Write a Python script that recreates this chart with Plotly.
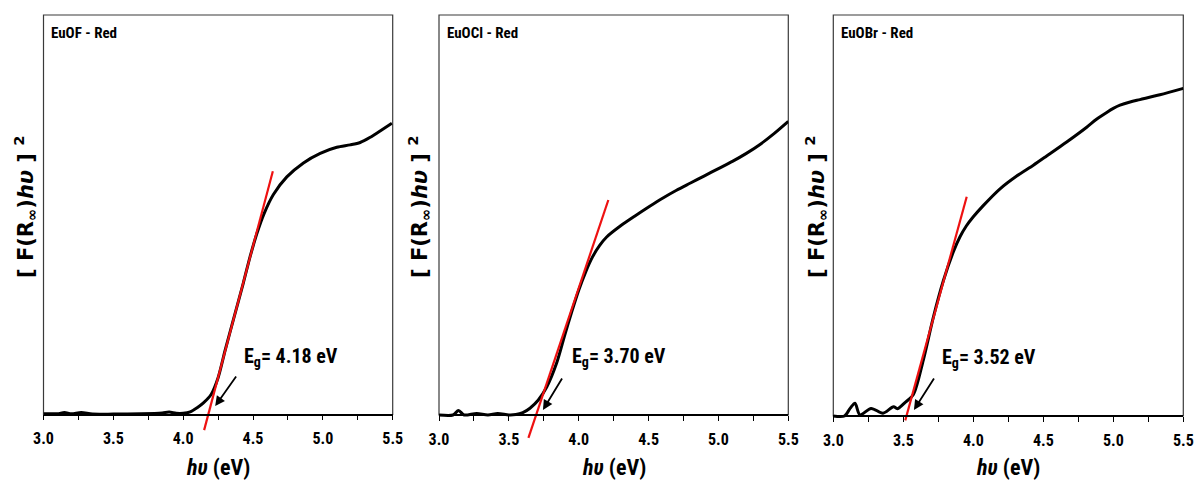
import plotly.graph_objects as go

# ---------------- data ----------------
samples = ["EuOF - Red", "EuOCl - Red", "EuOBr - Red"]
eg_values = [4.18, 3.70, 3.52]

x_euof = [3.00, 3.10, 3.15, 3.20, 3.27, 3.35, 3.50, 3.70, 3.85, 3.90, 3.95, 4.00, 4.05,
          4.10, 4.145, 4.20, 4.25, 4.30, 4.36, 4.43, 4.48, 4.53, 4.58, 4.646, 4.742, 4.861,
          4.981, 5.100, 5.195, 5.267, 5.339, 5.410, 5.494]
y_euof = [0.2, 0.2, 0.5, 0.2, 0.5, 0.1, 0.1, 0.2, 0.4, 0.6, 0.3, 0.3, 0.65,
          1.7, 2.9, 5.0, 9.2, 16.0, 23.8, 32.8, 39.6, 45.5, 50.3, 55.0, 59.4, 62.9,
          65.3, 66.8, 67.4, 68.0, 69.3, 70.9, 72.8]

x_euocl = [3.00, 3.10, 3.14, 3.18, 3.27, 3.35, 3.42, 3.50, 3.55, 3.60, 3.651, 3.711,
           3.771, 3.842, 3.90, 3.95, 4.00, 4.05, 4.10, 4.15, 4.20, 4.30, 4.40,
           4.50, 4.60, 4.70, 4.80, 4.90, 5.00, 5.10, 5.20, 5.30, 5.40, 5.50]
y_euocl = [0.0, 0.0, 1.1, 0.0, 0.4, 0.0, 0.4, 0.0, 0.1, 0.6, 1.7, 3.75,
           7.0, 13.0, 20.0, 25.8, 31.2, 35.8, 39.6, 42.4, 44.5, 47.3, 49.7,
           52.0, 54.2, 56.2, 58.0, 59.8, 61.6, 63.4, 65.4, 67.7, 70.4, 73.4]

x_euobr = [3.00, 3.08, 3.12, 3.155, 3.19, 3.27, 3.355, 3.43, 3.46, 3.476, 3.51, 3.571,
           3.643, 3.714, 3.786, 3.857, 3.905, 3.95, 4.00, 4.071, 4.191, 4.310, 4.429, 4.524,
           4.667, 4.810, 4.88, 4.953, 5.00, 5.048, 5.12, 5.190, 5.333, 5.500]
y_euobr = [0.0, 0.0, 1.9, 3.2, 0.3, 1.9, 0.7, 2.3, 1.8, 2.2, 3.3, 5.3,
           14.0, 24.6, 33.8, 41.0, 44.8, 47.5, 49.8, 52.6, 56.8, 60.0, 62.7, 65.0,
           68.5, 72.2, 74.2, 75.9, 76.9, 77.7, 78.5, 79.1, 80.3, 81.9]

# linear fits (tangent lines) : end points
fit_x = [[4.150, 4.642], [3.640, 4.212], [3.514, 3.953]]
fit_y = [[-3.9, 60.8], [-5.7, 53.75], [-1.1, 54.8]]

curves_x = [x_euof, x_euocl, x_euobr]
curves_y = [y_euof, y_euocl, y_euobr]

x_ticks = [3.0, 3.5, 4.0, 4.5, 5.0, 5.5]
x_ticktext = ["3.0", "3.5", "4.0", "4.5", "5.0", "5.5"]

# ---------------- layout geometry (pixels) ----------------
W, H = 1196, 482
panel_left = [43.5, 439, 833.3]
panel_right = [392.7, 788.3, 1183.3]
frame_top = 15
axis_px = [414.5, 415, 416]
plot_bottom = 442
px_per_unit = 4.0

narrow = "Liberation Sans Narrow, Arial Narrow, Roboto Condensed, Liberation Sans, sans-serif"
wide = "DejaVu Sans, Verdana, sans-serif"

fig = go.Figure()
annotations = []
shapes = []

arrow_head = [(4.229, 2.1), (3.744, 1.25), (3.576, 1.5)]
arrow_off = [(22, -31), (20, -33), (21, -33)]
eg_text_x = [4.422, 3.938, 3.762]
ytitle_x = [25, 419, 816]

for i in range(3):
    xa = "x" if i == 0 else f"x{i+1}"
    ya = "y" if i == 0 else f"y{i+1}"
    fig.add_trace(go.Scatter(x=curves_x[i], y=curves_y[i], mode="lines",
                             line=dict(color="black", width=3, shape="spline", smoothing=0.8),
                             xaxis=xa, yaxis=ya, showlegend=False, name=samples[i]))
    fig.add_trace(go.Scatter(x=fit_x[i], y=fit_y[i], mode="lines",
                             line=dict(color="#ee1111", width=2.2),
                             xaxis=xa, yaxis=ya, showlegend=False, name="fit"))

    dom = [panel_left[i] / W, panel_right[i] / W]
    ydom = [1 - plot_bottom / H, 1 - frame_top / H]
    ymin = -(plot_bottom - axis_px[i]) / px_per_unit
    ymax = (axis_px[i] - frame_top) / px_per_unit
    xkey = "xaxis" if i == 0 else f"xaxis{i+1}"
    ykey = "yaxis" if i == 0 else f"yaxis{i+1}"
    fig.update_layout(**{
        xkey: dict(domain=dom, range=[3.0, 5.5], anchor="free", position=1 - axis_px[i] / H,
                   showline=True, linecolor="black", linewidth=1.5,
                   ticks="outside", ticklen=5, tickwidth=1.2, tickcolor="black",
                   tickvals=x_ticks, ticktext=x_ticktext, ticklabelstandoff=5,
                   minor=dict(dtick=0.25, tick0=3.0, ticks="outside", ticklen=5,
                              tickwidth=1.2, tickcolor="black", showgrid=False),
                   tickfont=dict(family=narrow, size=16, color="black", weight="bold"),
                   showgrid=False, zeroline=False, fixedrange=True, automargin=False),
        ykey: dict(domain=ydom, range=[ymin, ymax], anchor=xa,
                   showline=False, showticklabels=False, ticks="",
                   showgrid=False, zeroline=False, fixedrange=True, automargin=False),
    })

    # frame
    shapes.append(dict(type="rect", xref="paper", yref="paper",
                       x0=dom[0], x1=dom[1], y0=1 - axis_px[i] / H, y1=1 - frame_top / H,
                       line=dict(color="#3a3a3a", width=1.2), layer="below"))

    # sample label
    annotations.append(dict(text=samples[i], xref="paper", yref="paper",
                            x=(panel_left[i] + 5.5) / W, y=1 - 33.5 / H,
                            xanchor="left", yanchor="middle", showarrow=False,
                            font=dict(family=narrow, size=15, color="black", weight="bold")))
    # Eg label
    annotations.append(dict(text=f"E<sub>g</sub>= {eg_values[i]:.2f} eV", xref=xa, yref=ya,
                            x=eg_text_x[i], y=14.5, xanchor="left", yanchor="middle",
                            showarrow=False,
                            font=dict(family=narrow, size=20, color="black", weight="bold")))
    # arrow
    annotations.append(dict(text="", xref=xa, yref=ya, x=arrow_head[i][0], y=arrow_head[i][1],
                            ax=arrow_off[i][0], ay=arrow_off[i][1], axref="pixel", ayref="pixel",
                            showarrow=True, arrowhead=2, arrowsize=1.1, arrowwidth=1.8,
                            arrowcolor="black", standoff=0))
    # x title
    annotations.append(dict(text="<i>hυ</i> (eV)", xref="paper", yref="paper",
                            x=(panel_left[i] + panel_right[i]) / 2 / W, y=1 - 467 / H,
                            xanchor="center", yanchor="middle", showarrow=False,
                            font=dict(family=narrow, size=22, color="black", weight="bold")))
    # y title
    annotations.append(dict(text="[ F(R<sub>∞</sub>)<i>hυ</i> ] <sup>2</sup>", xref="paper", yref="paper",
                            x=ytitle_x[i] / W, y=1 - 207 / H, textangle=-90,
                            xanchor="center", yanchor="middle", showarrow=False,
                            font=dict(family=wide, size=21, color="black", weight="bold")))

fig.update_layout(width=W, height=H,
                  margin=dict(l=0, r=0, t=0, b=0, pad=0, autoexpand=False),
                  paper_bgcolor="white", plot_bgcolor="white",
                  annotations=annotations, shapes=shapes, showlegend=False)

fig.write_html("out.html", config={"displayModeBar": False},
               post_script="document.body.style.margin='0';document.body.style.overflow='hidden';")
